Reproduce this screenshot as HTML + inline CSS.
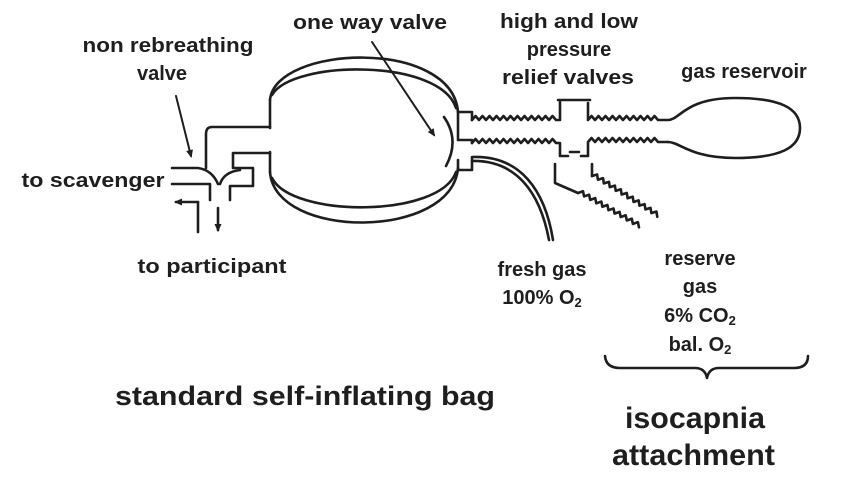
<!DOCTYPE html>
<html><head><meta charset="utf-8"><style>
html,body{margin:0;padding:0;background:#fff;}
svg{display:block;}
text{font-family:"Liberation Sans",Arial,sans-serif;font-weight:bold;fill:#1e1e1e;}
</style></head><body>
<svg width="868" height="478" viewBox="0 0 868 478" xmlns="http://www.w3.org/2000/svg">
<defs>
<marker id="ah" markerWidth="9" markerHeight="9" refX="6" refY="4.5" orient="auto" markerUnits="userSpaceOnUse">
<path d="M0,1 L8,4.5 L0,8 Z" fill="#1e1e1e"/></marker>
</defs>
<g fill="none" stroke="#1e1e1e" stroke-width="2.6" stroke-linejoin="round" stroke-linecap="round">
<path d="M270,100 C275,45 452,38 458,112"/>
<path d="M272,95 C292,60 440,58 456,108"/>
<path d="M270,172 C275,240 452,240 458,168"/>
<path d="M272,178 C292,218 440,218 456,172"/>
<path d="M270,100 V128 M270,152 V172"/>
<path d="M444,117 Q460,140 446,166"/>
<path d="M270,127 H212 Q206,127 206,134 V168"/>
<path d="M270,153 H233 V168 H253 V186 H230 V200"/>
<path d="M172,168 H198 Q212,170 218,184"/>
<path d="M240,170 Q224,172 220,184"/>
<path d="M172,184 H210 V200"/>
<path d="M198,202 H176" marker-end="url(#ah)"/>
<path d="M198,202 V232"/>
<path d="M218,208 V230" marker-end="url(#ah)"/>
<path d="M176,96 L191,156" stroke-width="2" marker-end="url(#ah)"/>
<path d="M372,42 L434,135" stroke-width="2" marker-end="url(#ah)"/>
<path d="M458,112 H472 V120"/>
<path d="M458,112 V140 H472 V143"/>
<path d="M458,160 V170 H472 V158"/>
<path d="M472,120 l3.5,-4l3.5,4l3.5,-4l3.5,4l3.5,-4l3.5,4l3.5,-4l3.5,4l3.5,-4l3.5,4l3.5,-4l3.5,4l3.5,-4l3.5,4l3.5,-4l3.5,4l3.5,-4l3.5,4l3.5,-4l3.5,4l3.5,-4l3.5,4l3.5,-4l3.5,4 H560 V102"/>
<path d="M558,100 H590"/>
<path d="M588,103 V120 l3.5,-4l3.5,4l3.5,-4l3.5,4l3.5,-4l3.5,4l3.5,-4l3.5,4l3.5,-4l3.5,4l3.5,-4l3.5,4l3.5,-4l3.5,4l3.5,-4l3.5,4l3.5,-4l3.5,4l3.5,-4l3.5,4 H668 C680,120 685,98 735,98 C780,98 800,108 800,128 C800,148 780,158 735,158 C690,158 680,142 668,142"/>
<path d="M472,143 l3.5,-4l3.5,4l3.5,-4l3.5,4l3.5,-4l3.5,4l3.5,-4l3.5,4l3.5,-4l3.5,4l3.5,-4l3.5,4l3.5,-4l3.5,4l3.5,-4l3.5,4l3.5,-4l3.5,4l3.5,-4l3.5,4l3.5,-4l3.5,4l3.5,-4l3.5,4 H560 V156 H568"/>
<path d="M570,152 H579"/>
<path d="M581,156 H588 V142 l3.5,-4l3.5,4l3.5,-4l3.5,4l3.5,-4l3.5,4l3.5,-4l3.5,4l3.5,-4l3.5,4l3.5,-4l3.5,4l3.5,-4l3.5,4l3.5,-4l3.5,4l3.5,-4l3.5,4l3.5,-4l3.5,4 H668"/>
<path d="M472,157 C520,155 545,190 553,240"/>
<path d="M472,161 C516,160 540,192 549,240"/>
<path d="M555,164 V183 L578,193"/>
<g transform="translate(578,193) rotate(29.4)"><path d="M0,0 l3.5,-4l3.5,4l3.5,-4l3.5,4l3.5,-4l3.5,4l3.5,-4l3.5,4l3.5,-4l3.5,4l3.5,-4l3.5,4l3.5,-4l3.5,4l3.5,-4l3.5,4l3.5,-4l3.5,4l3.5,-4l3.5,4"/></g>
<path d="M592,164 V176"/>
<g transform="translate(592,176) rotate(32)"><path d="M0,0 l3.5,-4l3.5,4l3.5,-4l3.5,4l3.5,-4l3.5,4l3.5,-4l3.5,4l3.5,-4l3.5,4l3.5,-4l3.5,4l3.5,-4l3.5,4l3.5,-4l3.5,4l3.5,-4l3.5,4l3.5,-4l3.5,4l3.5,-4l3.5,4"/></g>
<path d="M605,356 Q606,368 620,368 H695 Q705,368 707,378 Q709,368 719,368 H794 Q808,368 808,356"/>
</g>
<g font-size="20" text-anchor="middle">
<text x="168" y="52" textLength="171" lengthAdjust="spacingAndGlyphs">non rebreathing</text>
<text x="162" y="80">valve</text>
<text x="370" y="29" textLength="154" lengthAdjust="spacingAndGlyphs">one way valve</text>
<text x="569" y="28" textLength="138" lengthAdjust="spacingAndGlyphs">high and low</text>
<text x="569" y="56">pressure</text>
<text x="568" y="84" textLength="132" lengthAdjust="spacingAndGlyphs">relief valves</text>
<text x="744" y="78">gas reservoir</text>
<text x="93" y="187" textLength="143" lengthAdjust="spacingAndGlyphs">to scavenger</text>
<text x="212" y="273" textLength="149" lengthAdjust="spacingAndGlyphs">to participant</text>
<text x="542" y="276">fresh gas</text>
<text x="542" y="304">100% O<tspan font-size="13" dy="3">2</tspan></text>
<text x="700" y="265">reserve</text>
<text x="700" y="293">gas</text>
<text x="700" y="322">6% CO<tspan font-size="13" dy="3">2</tspan></text>
<text x="700" y="351">bal. O<tspan font-size="13" dy="3">2</tspan></text>
</g>
<text x="115" y="405" font-size="27" textLength="380" lengthAdjust="spacingAndGlyphs">standard self-inflating bag</text>
<text x="625" y="428" font-size="30" textLength="140" lengthAdjust="spacingAndGlyphs">isocapnia</text>
<text x="612" y="465" font-size="30" textLength="163" lengthAdjust="spacingAndGlyphs">attachment</text>
</svg>
</body></html>
